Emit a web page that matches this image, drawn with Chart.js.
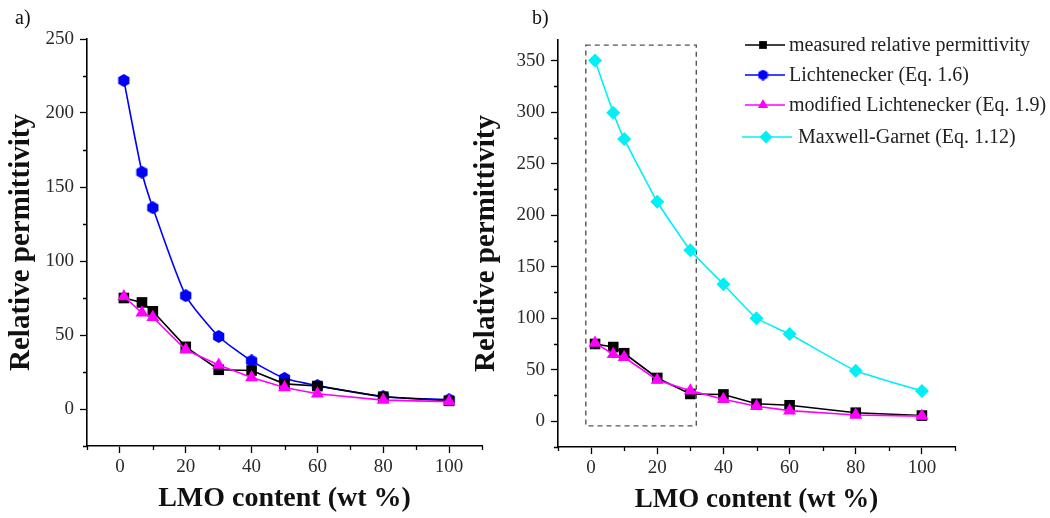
<!DOCTYPE html>
<html>
<head>
<meta charset="utf-8">
<script src="https://cdn.jsdelivr.net/npm/chart.js@4"></script>
<style>
  html, body { margin: 0; padding: 0; background: #fff; }
  body { width: 1050px; height: 518px; position: relative; overflow: hidden; }
  canvas { position: absolute; top: 0; }
  #chartA { left: 0; }
  #chartB { left: 460px; }
</style>
</head>
<body>
<canvas id="chartA" width="500" height="518"></canvas>
<canvas id="chartB" width="590" height="518"></canvas>
<script>
// LMO content (wt %)
const lmo = [1.2, 6.7, 10, 20, 30, 40, 50, 60, 80, 100];

const measured = [75, 72, 66, 42, 26.5, 26, 17, 15.5, 8.3, 5.5];
const lichtenecker = [222, 160, 136, 76.6, 49, 32.5, 20.7, 15.8, 8.3, 6.3];
const modLichtenecker = [76, 65, 62, 40, 29.7, 21.3, 14.5, 10.3, 6, 5];
const maxwellGarnet = [350, 299.5, 274, 213, 166, 133, 100, 84.6, 49, 29.3];

const seriesLabels = [
  'measured relative permittivity',
  'Lichtenecker (Eq. 1.6)',
  'modified Lichtenecker (Eq. 1.9)',
  ' Maxwell-Garnet (Eq. 1.12)'
];

const xTickLabels = [0, 20, 40, 60, 80, 100];
const yTickLabelsA = [0, 50, 100, 150, 200, 250];
const yTickLabelsB = [0, 50, 100, 150, 200, 250, 300, 350];

// zoomed-in region marked on panel b
const boxX = [-1.6, 31.8];
const boxY = [-4.5, 365];

const SERIF = '"Liberation Serif", "Times New Roman", serif';

// hexagon marker for the Lichtenecker curve
function hexagon(size, color) {
  const c = document.createElement('canvas');
  c.width = size; c.height = size;
  const g = c.getContext('2d');
  const r = size / 2;
  g.fillStyle = color;
  g.beginPath();
  for (let i = 0; i < 6; i++) {
    const a = Math.PI / 2 + i * Math.PI / 3;
    const px = r + r * Math.cos(a), py = r - r * Math.sin(a);
    i ? g.lineTo(px, py) : g.moveTo(px, py);
  }
  g.closePath();
  g.fill();
  return c;
}
const hexMarker = hexagon(13, '#0000ff');
const hexLegend = hexagon(11, '#0000ff');

function pts(ys) {
  return lmo.map((x, i) => ({ x, y: ys[i] }));
}

const styles = [
  { color: '#000000', pointStyle: 'rect', pointRadius: 7.5, tension: 0, order: 2, legendRadius: 5.5 },
  { color: '#0000ff', pointStyle: hexMarker, pointRadius: 6.5, tension: 0.2, order: 3, legendStyle: hexLegend },
  { color: '#ff00ff', pointStyle: 'triangle', pointRadius: 7.5, tension: 0, order: 1, legendRadius: 6 },
  { color: '#00f0f5', pointStyle: 'rectRot', pointRadius: 7, tension: 0.15, order: 0, legendRadius: 6.5 }
];

function dataset(i, values) {
  const s = styles[i];
  return {
    label: seriesLabels[i], data: values ? pts(values) : [],
    borderColor: s.color, backgroundColor: s.color,
    pointStyle: s.pointStyle, pointRadius: s.pointRadius, tension: s.tension, order: s.order
  };
}

// ticks every `step` from the axis minimum, labelled ones get a long tick
function stepTicks(step) {
  return s => {
    const out = [];
    for (let v = s.min; v <= s.max + 1e-9; v += step) out.push({ value: v });
    s.ticks = out;
  };
}

function xAxis(height, titleSize) {
  return {
    type: 'linear', min: -10, max: 110,
    afterFit: s => { s.height = height; },
    afterBuildTicks: stepTicks(10),
    ticks: {
      autoSkip: false, maxRotation: 0, padding: 3, color: '#2a2a2a',
      font: { family: SERIF, size: 19 },
      callback: v => xTickLabels.includes(v) ? String(v) : ''
    },
    grid: {
      drawOnChartArea: false, drawTicks: true, tickLength: 7, tickWidth: 1.3,
      tickColor: c => xTickLabels.includes(c.tick && c.tick.value) ? '#000' : 'rgba(0,0,0,0)'
    },
    border: { display: true, color: '#000', width: 1.6 },
    title: { display: true, text: 'LMO content (wt %)', color: '#111', padding: { top: 0, bottom: 2 },
      font: { family: SERIF, size: titleSize, weight: 'bold' } }
  };
}

function yAxis(width, min, max, labels, titlePad) {
  return {
    type: 'linear', min, max,
    afterFit: s => { s.width = width; },
    afterBuildTicks: stepTicks(25),
    ticks: {
      autoSkip: false, padding: 6, color: '#2a2a2a',
      font: { family: SERIF, size: 19 },
      callback: v => labels.includes(v) ? String(v) : ''
    },
    grid: {
      drawOnChartArea: false, drawTicks: true, tickLength: 7, tickWidth: 1.3,
      tickColor: c => labels.includes(c.tick && c.tick.value) ? '#000' : 'rgba(0,0,0,0)'
    },
    border: { display: true, color: '#000', width: 1.6 },
    title: { display: true, text: 'Relative permittivity', color: '#111', padding: { top: titlePad, bottom: 0 },
      font: { family: SERIF, size: 29, weight: 'bold' } }
  };
}

// short unlabelled ticks between the labelled ones
const minorTicks = {
  id: 'minorTicks',
  afterDraw(chart, args, opts) {
    const { ctx, scales: { x, y } } = chart;
    ctx.save();
    ctx.strokeStyle = '#000';
    ctx.lineWidth = 1.3;
    ctx.beginPath();
    x.ticks.forEach(t => {
      if (xTickLabels.includes(t.value)) return;
      const px = Math.round(x.getPixelForValue(t.value)) + 0.5;
      ctx.moveTo(px, x.top);
      ctx.lineTo(px, x.top + 4);
    });
    y.ticks.forEach(t => {
      if (opts.labels.includes(t.value)) return;
      const py = Math.round(y.getPixelForValue(t.value)) + 0.5;
      ctx.moveTo(y.right, py);
      ctx.lineTo(y.right - 4, py);
    });
    ctx.stroke();
    ctx.restore();
  }
};

// panel letter in the top-left corner
const panelLabel = {
  id: 'panelLabel',
  afterDraw(chart, args, opts) {
    const ctx = chart.ctx;
    ctx.save();
    ctx.fillStyle = '#111';
    ctx.font = '20px ' + SERIF;
    ctx.textBaseline = 'middle';
    ctx.fillText(opts.text, opts.x, opts.y);
    ctx.restore();
  }
};

// dashed frame around the low-concentration region
const zoomBox = {
  id: 'zoomBox',
  beforeDatasetsDraw(chart) {
    const { ctx, scales: { x, y } } = chart;
    const x0 = x.getPixelForValue(boxX[0]), x1 = x.getPixelForValue(boxX[1]);
    const y0 = y.getPixelForValue(boxY[1]), y1 = y.getPixelForValue(boxY[0]);
    ctx.save();
    ctx.strokeStyle = '#555';
    ctx.lineWidth = 1.4;
    ctx.setLineDash([5, 4]);
    ctx.strokeRect(x0, y0, x1 - x0, y1 - y0);
    ctx.restore();
  }
};

// legend drawn inside the upper right of panel b
const lineLegend = {
  id: 'lineLegend',
  afterDraw(chart) {
    const ctx = chart.ctx;
    const rows = [
      { y: 45, x0: 285, x1: 325, mx: 303, tx: 329 },
      { y: 75, x0: 285, x1: 325, mx: 303, tx: 329 },
      { y: 105, x0: 285, x1: 325, mx: 303, tx: 329 },
      { y: 137, x0: 282, x1: 332, mx: 306, tx: 333 }
    ];
    chart.data.datasets.forEach((ds, i) => {
      const r = rows[i];
      const s = styles[i];
      ctx.save();
      ctx.strokeStyle = s.color;
      ctx.lineWidth = 1.6;
      ctx.beginPath();
      ctx.moveTo(r.x0, r.y);
      ctx.lineTo(r.x1, r.y);
      ctx.stroke();
      ctx.fillStyle = s.color;
      Chart.helpers.drawPoint(ctx, {
        pointStyle: s.legendStyle || s.pointStyle, radius: s.legendRadius || 5, rotation: 0, borderWidth: 0
      }, r.mx, r.y);
      ctx.fillStyle = '#222';
      ctx.font = '20px ' + SERIF;
      ctx.textBaseline = 'middle';
      ctx.fillText(ds.label, r.tx, r.y + 1);
      ctx.restore();
    });
  }
};

const common = {
  responsive: false,
  animation: false,
  elements: {
    line: { borderWidth: 1.6 },
    point: { borderWidth: 0, hoverRadius: 7 }
  }
};

new Chart(document.getElementById('chartA').getContext('2d'), {
  type: 'line',
  data: { datasets: [dataset(0, measured), dataset(1, lichtenecker), dataset(2, modLichtenecker)] },
  options: {
    ...common,
    layout: { padding: { top: 39, right: 18, left: 0, bottom: 0 } },
    scales: { x: xAxis(72, 28), y: yAxis(87, -25, 250, yTickLabelsA, 4) },
    plugins: {
      legend: { display: false }, tooltip: { enabled: false },
      minorTicks: { labels: yTickLabelsA },
      panelLabel: { text: 'a)', x: 15, y: 19 }
    }
  },
  plugins: [minorTicks, panelLabel]
});

// panel b: Lichtenecker appears only in the legend
new Chart(document.getElementById('chartB').getContext('2d'), {
  type: 'line',
  data: {
    datasets: [dataset(0, measured), dataset(1, null), dataset(2, modLichtenecker), dataset(3, maxwellGarnet)]
  },
  options: {
    ...common,
    layout: { padding: { top: 40, right: 95, left: 0, bottom: 0 } },
    scales: { x: xAxis(71, 27), y: yAxis(98, -25, 370, yTickLabelsB, 9) },
    plugins: {
      legend: { display: false }, tooltip: { enabled: false },
      minorTicks: { labels: yTickLabelsB },
      panelLabel: { text: 'b)', x: 72, y: 19 }
    }
  },
  plugins: [minorTicks, panelLabel, zoomBox, lineLegend]
});
</script>
</body>
</html>
